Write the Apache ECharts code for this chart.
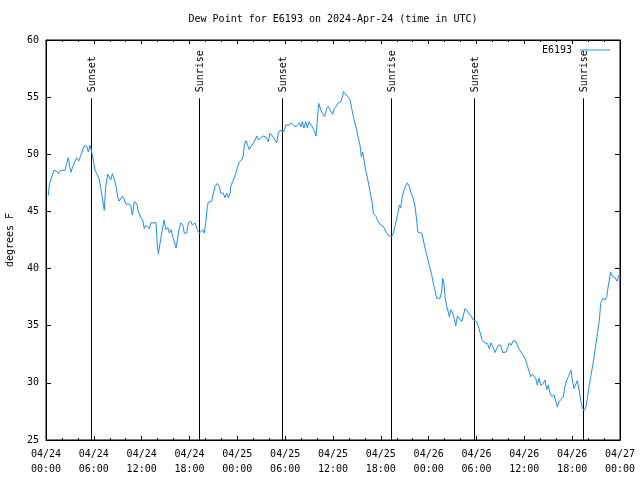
<!DOCTYPE html>
<html>
<head>
<meta charset="utf-8">
<script src="https://cdn.jsdelivr.net/npm/echarts@6/dist/echarts.min.js"></script>
<style>
html,body{margin:0;padding:0;background:#fff;}
#chart{width:640px;height:480px;}
</style>
</head>
<body>
<div id="chart"></div>
<script>
// hours after 2024-04-24 00:00 UTC
const hours = [0.29,0.41,0.59,0.84,1.00,1.34,1.54,1.84,2.38,2.60,2.80,3.10,3.35,3.64,3.85,4.10,4.35,4.60,4.80,5.11,5.31,5.52,5.73,5.93,6.15,6.44,6.69,6.90,7.11,7.31,7.49,7.74,7.94,8.12,8.32,8.53,8.78,8.99,9.16,9.41,9.62,9.82,10.04,10.32,10.62,10.83,11.08,11.38,11.58,11.88,12.13,12.33,12.54,12.76,12.96,13.17,13.80,13.96,14.09,14.30,14.51,14.80,15.05,15.27,15.47,15.68,15.89,16.09,16.31,16.47,16.68,16.90,17.15,17.35,17.65,17.85,18.15,18.35,18.69,18.98,19.23,19.66,19.86,20.07,20.23,20.36,20.79,20.99,21.20,21.49,21.74,21.91,22.24,22.45,22.67,22.87,23.08,23.21,23.42,23.62,23.80,24.00,24.25,24.55,24.75,24.87,25.09,25.30,25.50,25.72,26.00,26.22,26.43,26.63,26.93,27.26,27.60,27.89,28.10,28.31,28.51,28.73,28.94,29.14,29.35,29.57,29.85,30.07,30.27,30.52,30.73,31.02,31.36,31.57,31.77,31.99,32.15,32.36,32.58,32.78,32.99,33.20,33.40,33.62,33.87,34.03,34.21,34.37,34.58,34.78,34.96,35.21,35.41,35.62,35.96,36.16,36.38,36.67,36.97,37.22,37.29,37.63,37.92,38.13,38.35,38.55,38.76,38.97,39.18,39.39,39.55,39.73,39.89,40.10,40.30,40.52,40.73,40.93,41.06,41.40,41.68,41.99,42.31,42.65,42.94,43.37,43.57,43.87,44.12,44.32,44.49,44.69,44.91,45.16,45.32,45.57,45.79,46.07,46.29,46.50,46.63,47.13,47.33,47.54,47.76,47.96,48.17,48.38,48.58,48.80,49.01,49.42,49.64,49.76,49.93,50.05,50.26,50.46,50.59,50.80,51.02,51.22,51.40,51.60,51.85,52.15,52.35,52.56,52.78,52.97,53.19,53.40,53.60,54.03,54.25,54.53,54.73,55.07,55.36,55.61,55.82,56.03,56.32,56.53,56.74,57.04,57.29,57.70,57.99,58.12,58.33,58.62,58.96,59.17,59.37,59.67,59.96,60.17,60.38,60.59,60.80,61.00,61.22,61.43,61.63,61.84,62.06,62.38,62.59,62.81,63.01,63.22,63.43,63.72,63.94,64.14,64.35,64.60,64.89,65.10,65.32,65.52,65.86,66.02,66.23,66.45,66.65,66.86,67.07,67.28,67.49,67.70,67.90,68.11,68.33,68.58,68.78,68.99,69.21,69.41,69.58,69.83,70.12,70.34,70.54,70.67,70.81,71.06,71.38,71.63,71.88,72.0];

const dewPoint = [46.4,47.3,47.75,47.9,48.6,48.5,48.3,48.6,48.6,49.2,49.7,48.4,48.9,49.4,49.7,49.4,49.9,49.9,50.75,50.7,50.2,50.8,50.2,49.5,48.6,48.2,47.75,46.9,46.0,45.1,47.2,48.25,48.3,47.75,48.3,47.9,47.2,46.3,45.9,46.05,46.35,46.3,45.65,45.65,45.55,44.7,45.85,45.7,45.0,44.5,44.25,43.5,43.8,43.7,43.5,44.0,44.0,42.1,41.3,42.2,43.1,44.25,43.4,43.6,43.1,43.4,42.8,42.35,41.8,42.5,43.4,44.0,43.8,43.1,43.1,44.0,44.15,43.8,44.0,43.4,43.1,43.4,43.1,44.25,45.4,45.8,45.9,46.6,47.2,47.45,47.2,46.6,46.6,46.2,46.6,46.2,46.6,47.3,47.6,47.75,48.3,48.85,49.35,49.5,49.9,50.8,51.2,50.8,50.4,50.7,50.95,51.25,51.6,51.25,51.45,51.6,51.5,51.1,51.85,52.0,51.5,51.25,51.0,51.85,52.1,52.0,52.0,52.55,52.7,52.55,52.75,52.55,52.4,52.45,52.75,52.4,52.85,52.3,52.85,52.3,52.85,52.85,52.4,52.1,51.6,53.0,54.45,54.5,53.7,53.6,53.3,54.0,54.2,53.9,53.5,54.0,54.2,54.5,54.6,55.1,55.5,55.2,55.0,54.75,54.0,53.3,52.7,52.1,51.4,50.8,49.8,50.2,49.5,48.6,48.0,47.2,46.4,45.7,44.8,44.55,44.1,43.8,43.7,43.2,42.9,42.8,43.1,44.0,44.8,45.55,45.3,46.3,46.9,47.3,47.5,47.2,46.6,46.15,45.4,44.25,43.2,43.1,42.5,41.8,41.2,40.6,40.0,39.45,38.7,38.1,37.4,37.4,38.0,39.15,38.55,37.55,36.7,36.2,35.8,36.4,36.1,35.55,35.0,35.85,35.75,35.35,35.35,36.5,36.4,36.15,36.1,35.75,35.5,35.35,34.9,34.2,33.7,33.5,33.45,33.0,33.5,33.2,32.65,33.0,33.3,33.3,32.65,32.7,33.2,33.5,33.3,33.7,33.6,33.6,32.9,32.6,32.3,32.0,31.5,31.0,30.55,30.75,30.75,30.4,29.8,30.4,29.8,29.95,30.25,29.4,29.8,29.1,28.8,28.95,29.1,27.9,28.35,28.55,28.8,29.65,30.25,30.55,31.1,30.25,29.5,29.5,30.2,29.4,28.5,27.8,27.6,27.8,28.65,29.65,30.55,31.55,32.4,33.45,34.5,35.5,36.95,37.4,37.25,37.55,38.55,39.0,39.7,39.3,39.2,38.9,39.4,39.3];

// Sun events (hours after 2024-04-24 00:00 UTC)
const eventHours = [5.65, 19.19, 29.60, 43.28, 53.69, 67.36];
const eventNames = ['Sunset', 'Sunrise', 'Sunset', 'Sunrise', 'Sunset', 'Sunrise'];

const seriesName = 'E6193';
const titleText = 'Dew Point for E6193 on 2024-Apr-24 (time in UTC)';
const yAxisName = 'degrees F';
const yMin = 25, yMax = 60, yStep = 5;
const spanHours = 72, stepHours = 6;
const eventLineTop = 54.9;

const T0 = Date.UTC(2024, 3, 24, 0, 0, 0);
const H = 3600000;
const FONT = 'DejaVu Sans Mono';
const LINE_COLOR = '#1c8cff';

const seriesData = hours.map((h, i) => [T0 + h * H, dewPoint[i]]);
const eventData = eventHours.map(h => [T0 + h * H, eventLineTop]);

function pad(n) { return (n < 10 ? '0' : '') + n; }
function fmtTime(v) {
  const d = new Date(v);
  return pad(d.getUTCMonth() + 1) + '/' + pad(d.getUTCDate()) + '\n' +
         pad(d.getUTCHours()) + ':' + pad(d.getUTCMinutes());
}

const chart = echarts.init(document.getElementById('chart'), null, {renderer: 'canvas'});

const xCommon = {
  type: 'value',
  min: T0,
  max: T0 + spanHours * H,
  interval: stepHours * H,
  axisLine: {show: true, lineStyle: {color: '#000', width: 1}},
  axisTick: {show: true, inside: true, length: 4, lineStyle: {color: '#000'}},
  minorTick: {show: true, splitNumber: 3, length: 2, lineStyle: {color: '#000'}},
  splitLine: {show: false}
};
const yCommon = {
  type: 'value',
  min: yMin, max: yMax, interval: yStep,
  axisLine: {show: true, lineStyle: {color: '#000', width: 1}},
  axisTick: {show: true, inside: true, length: 5, lineStyle: {color: '#000'}},
  splitLine: {show: false}
};

chart.setOption({
  animation: false,
  backgroundColor: '#fff',
  textStyle: {fontFamily: FONT},
  grid: {left: 46, right: 20, top: 40, bottom: 40, show: true, borderColor: '#000', borderWidth: 1,
         containLabel: false, outerBoundsMode: 'none'},
  graphic: [{
    type: 'text', x: 333, y: 19,
    style: {text: titleText, textAlign: 'center', textVerticalAlign: 'middle',
            font: '10px ' + FONT, fill: '#000'}
  }],
  legend: {
    show: true, data: [seriesName], right: 25, top: 40,
    align: 'right', icon: 'rect', itemWidth: 30, itemHeight: 1,
    itemStyle: {color: LINE_COLOR, borderWidth: 0},
    textStyle: {fontFamily: FONT, fontSize: 10, color: '#000', padding: [0, 3, 0, 0]}
  },
  xAxis: [
    Object.assign({}, xCommon, {
      position: 'bottom',
      axisLabel: {show: true, formatter: fmtTime, color: '#000', fontFamily: FONT, fontSize: 10,
                  lineHeight: 15, margin: 7, showMinLabel: true, showMaxLabel: true, hideOverlap: false}
    }),
    Object.assign({}, xCommon, {position: 'top', axisLabel: {show: false}})
  ],
  yAxis: [
    Object.assign({}, yCommon, {
      position: 'left',
      name: yAxisName, nameLocation: 'middle', nameGap: 31, nameRotate: 90,
      nameTextStyle: {fontFamily: FONT, fontSize: 10, color: '#000'},
      axisLabel: {show: true, color: '#000', fontFamily: FONT, fontSize: 10, margin: 7}
    }),
    Object.assign({}, yCommon, {position: 'right', axisLabel: {show: false}})
  ],
  series: [
    {
      name: seriesName,
      type: 'line',
      data: seriesData,
      showSymbol: false,
      symbol: 'none',
      lineStyle: {color: LINE_COLOR, width: 1},
      itemStyle: {color: LINE_COLOR},
      z: 3
    },
    {
      name: 'events',
      type: 'custom',
      data: eventData,
      encode: {x: 0, y: 1},
      z: 2,
      renderItem: function (params, api) {
        const t = api.value(0);
        const top = api.value(1);
        const p0 = api.coord([t, yMin]);
        const p1 = api.coord([t, top]);
        const x = Math.round(p0[0]) + 0.5;
        return {
          type: 'group',
          children: [
            {type: 'line', shape: {x1: x, y1: p0[1], x2: x, y2: p1[1]},
             style: {stroke: '#000', lineWidth: 1}},
            {type: 'text', x: x + 1, y: p1[1] - 6, rotation: Math.PI / 2,
             style: {text: eventNames[params.dataIndex], textAlign: 'left', textVerticalAlign: 'middle',
                     font: '10px ' + FONT, fill: '#000'}}
          ]
        };
      }
    }
  ]
});
</script>
</body>
</html>
